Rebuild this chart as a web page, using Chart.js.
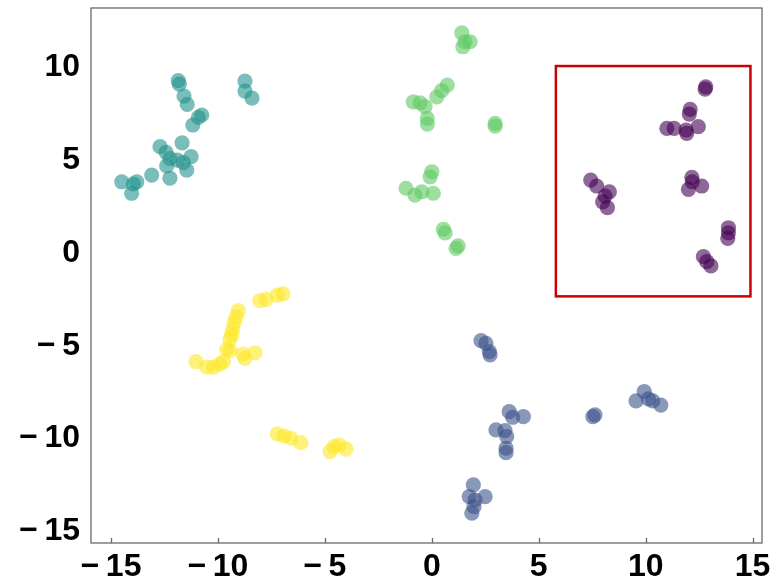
<!DOCTYPE html>
<html><head><meta charset="utf-8">
<script src="https://cdn.jsdelivr.net/npm/chart.js@4"></script>
<style>html,body{margin:0;padding:0;background:#fff}</style>
</head><body>
<canvas id="c" width="781" height="588"></canvas>
<script>
// ---- data ----
const clusterNames = ["purple", "blue", "teal", "green", "yellow"];
const clusterColors = ["rgba(68,1,84,0.6)", "rgba(59,82,139,0.6)", "rgba(33,145,140,0.6)", "rgba(94,201,98,0.6)", "rgba(253,231,37,0.6)"];

const purpleX = [12.81, 12.78, 12.08, 12.04, 10.99, 11.33, 11.89, 11.92, 12.46, 7.43, 7.71, 8.30, 8.10, 7.99, 8.21, 12.16, 12.18, 12.62, 12.00, 13.87, 13.87, 13.84, 12.70, 12.86, 13.05];
const purpleY = [8.80, 8.68, 7.58, 7.33, 6.56, 6.56, 6.47, 6.29, 6.65, 3.77, 3.45, 3.14, 2.91, 2.60, 2.28, 3.92, 3.68, 3.45, 3.27, 1.20, 0.93, 0.63, -0.36, -0.63, -0.86];

const blueX = [2.30, 2.53, 2.69, 2.72, 3.62, 3.78, 4.28, 3.00, 3.42, 3.50, 3.47, 3.47, 7.63, 7.53, 9.93, 9.55, 10.13, 10.33, 10.71, 1.94, 1.75, 2.02, 2.49, 1.97, 1.87];
const blueY = [-4.89, -5.03, -5.48, -5.66, -8.72, -9.02, -8.99, -9.70, -9.74, -10.06, -10.69, -10.93, -8.89, -8.99, -7.64, -8.14, -8.03, -8.14, -8.36, -12.67, -13.30, -13.48, -13.30, -13.84, -14.19];

const tealX = [-11.86, -11.81, -11.59, -11.44, -10.76, -10.92, -11.18, -11.68, -12.71, -12.43, -12.25, -11.90, -11.26, -11.46, -11.62, -12.40, -12.25, -13.10, -14.50, -13.96, -14.04, -13.80, -8.74, -8.74, -8.41];
const tealY = [9.13, 8.95, 8.30, 7.85, 7.28, 7.15, 6.74, 5.78, 5.57, 5.27, 4.94, 4.85, 5.03, 4.31, 4.71, 4.53, 3.87, 4.04, 3.68, 3.56, 3.06, 3.68, 9.11, 8.57, 8.19];

const greenX = [1.40, 1.55, 1.79, 1.45, 0.72, 0.46, 0.23, -0.87, -0.55, -0.32, -0.21, -0.21, 2.96, 2.96, 0.00, -0.08, -1.21, -0.79, -0.47, 0.07, 0.54, 0.62, 1.13, 1.23];
const greenY = [11.71, 11.23, 11.23, 10.96, 8.89, 8.59, 8.26, 7.99, 7.94, 7.73, 7.10, 6.79, 6.83, 6.68, 4.22, 3.95, 3.33, 2.96, 3.14, 3.06, 1.12, 0.92, 0.09, 0.22];

const yellowX = [-8.04, -7.75, -7.23, -6.96, -9.05, -9.16, -9.25, -9.31, -9.36, -9.44, -9.59, -9.44, -8.74, -8.83, -8.27, -9.75, -11.03, -10.53, -10.22, -9.91, -7.23, -6.91, -6.60, -6.13, -4.76, -4.57, -4.33, -4.01];
const yellowY = [-2.73, -2.66, -2.43, -2.37, -3.27, -3.60, -3.92, -4.27, -4.58, -4.81, -5.35, -5.43, -5.84, -5.61, -5.54, -6.02, -6.02, -6.32, -6.32, -6.15, -9.92, -10.03, -10.15, -10.39, -10.87, -10.60, -10.51, -10.74];

const xTickValues = [-15, -10, -5, 0, 5, 10, 15];
const yTickValues = [-15, -10, -5, 0, 5, 10];
const xTickLabels = ["\u2212\u200915", "\u2212\u200910", "\u2212\u20095", "0", "5", "10", "15"];
const yTickLabels = ["\u2212\u200915", "\u2212\u200910", "\u2212\u20095", "0", "5", "10"];

// highlighted region (data units)
const boxX = [5.8, 14.9];
const boxY = [-2.5, 9.92];

// ---- build ----
const xs = [purpleX, blueX, tealX, greenX, yellowX];
const ys = [purpleY, blueY, tealY, greenY, yellowY];
const datasets = clusterNames.map((n, i) => ({
  label: n,
  data: xs[i].map((x, j) => ({x: x, y: ys[i][j]})),
  backgroundColor: clusterColors[i],
  borderWidth: 0,
  pointRadius: 7.6,
  pointHoverRadius: 7.6
}));

const framePlugin = {
  id: 'frame',
  afterDatasetsDraw(chart) {
    const {ctx, chartArea: a, scales} = chart;
    ctx.save();
    // red box
    ctx.strokeStyle = '#cc0000';
    ctx.lineWidth = 2.5;
    const x0 = scales.x.getPixelForValue(boxX[0]), x1 = scales.x.getPixelForValue(boxX[1]);
    const y0 = scales.y.getPixelForValue(boxY[1]), y1 = scales.y.getPixelForValue(boxY[0]);
    ctx.strokeRect(x0, y0, x1 - x0, y1 - y0);
    // frame
    ctx.strokeStyle = '#6a6a6a';
    ctx.lineWidth = 1.3;
    ctx.strokeRect(a.left, a.top, a.right - a.left, a.bottom - a.top);
    // x ticks (inward)
    ctx.beginPath();
    xTickValues.forEach(v => {
      const px = Math.round(scales.x.getPixelForValue(v)) + 0.5;
      ctx.moveTo(px, a.bottom);
      ctx.lineTo(px, a.bottom - 5);
    });
    ctx.stroke();
    ctx.restore();
  }
};

new Chart(document.getElementById('c'), {
  type: 'scatter',
  data: {datasets},
  plugins: [framePlugin],
  options: {
    responsive: false,
    animation: false,
    devicePixelRatio: 1,
    layout: {padding: {top: 8, right: 19, left: 0, bottom: 0}},
    plugins: {legend: {display: false}, tooltip: {enabled: false}},
    scales: {
      x: {
        type: 'linear', min: -15.94, max: 15.44,
        afterBuildTicks: s => { s.ticks = xTickValues.map(v => ({value: v})); },
        afterFit: s => { s.height = 45; s.paddingLeft = 0; s.paddingRight = 0; },
        grid: {display: false, drawTicks: false},
        border: {display: false},
        ticks: {
          padding: 5,
          color: '#000',
          font: {family: "'Liberation Sans', Arial", weight: 'bold', size: 32},
          callback: (v) => { const i = xTickValues.indexOf(v); return i >= 0 ? xTickLabels[i] : ''; },
          maxRotation: 0, autoSkip: false
        }
      },
      y: {
        type: 'linear', min: -15.8, max: 13.05,
        afterBuildTicks: s => { s.ticks = yTickValues.map(v => ({value: v})); },
        afterFit: s => { s.width = 91; s.paddingTop = 0; s.paddingBottom = 0; },
        grid: {display: false, drawTicks: false},
        border: {display: false},
        ticks: {
          padding: 11,
          labelOffset: 3,
          color: '#000',
          font: {family: "'Liberation Sans', Arial", weight: 'bold', size: 32},
          callback: (v) => { const i = yTickValues.indexOf(v); return i >= 0 ? yTickLabels[i] : ''; },
          autoSkip: false
        }
      }
    }
  }
});
</script>
</body></html>
